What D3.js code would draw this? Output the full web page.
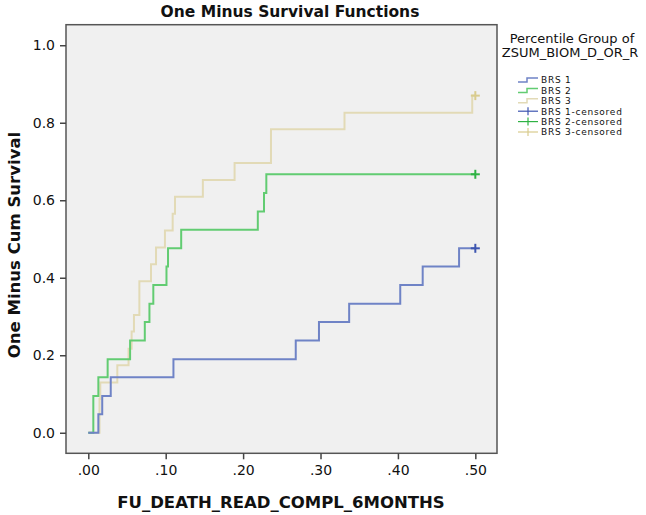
<!DOCTYPE html>
<html>
<head>
<meta charset="utf-8">
<script src="https://cdn.jsdelivr.net/npm/d3@7"></script>
<style>
  html, body { margin: 0; padding: 0; background: #ffffff; }
  svg { display: block; font-family: "DejaVu Sans", sans-serif; }
</style>
</head>
<body>
<svg id="chart" width="646" height="515"></svg>
<script>
// ---- data ----
const groups = ["BRS 1", "BRS 2", "BRS 3"];
// event times and one-minus-survival values after each event
const brs1Times  = [0.013, 0.018, 0.029, 0.110, 0.268, 0.298, 0.337, 0.403, 0.432, 0.479];
const brs1Values = [0.048, 0.095, 0.143, 0.190, 0.238, 0.286, 0.333, 0.381, 0.429, 0.476];
const brs2Times  = [0.0065, 0.013, 0.025, 0.054, 0.073, 0.079, 0.084, 0.101, 0.103, 0.120, 0.219, 0.227, 0.230];
const brs2Values = [0.095, 0.143, 0.190, 0.238, 0.286, 0.333, 0.381, 0.429, 0.476, 0.524, 0.571, 0.619, 0.667];
const brs3Times  = [0.0145, 0.0155, 0.0375, 0.052, 0.056, 0.059, 0.066, 0.081, 0.0875, 0.099, 0.109, 0.112, 0.148, 0.189, 0.236, 0.331, 0.496];
const brs3Values = [0.087, 0.130, 0.174, 0.217, 0.261, 0.304, 0.391, 0.435, 0.478, 0.522, 0.565, 0.609, 0.652, 0.696, 0.783, 0.826, 0.870];
const censorTime = [0.50, 0.50, 0.50];
const xTicks = [0, 0.1, 0.2, 0.3, 0.4, 0.5];
const yTicks = [0, 0.2, 0.4, 0.6, 0.8, 1.0];
const lineColors   = ["#6f83c6", "#62cc72", "#e2dab6"];
const censorColors = ["#3d55b0", "#2fb244", "#d9cc8e"];

const svg = d3.select("#chart");
const plot = { left: 66, right: 497, top: 24.7, bottom: 453.3 };

const x = d3.scaleLinear().domain([-0.0288, 0.528]).range([plot.left, plot.right]);
const y = d3.scaleLinear().domain([-0.053, 1.053]).range([plot.bottom, plot.top]);

// plot background
svg.append("rect")
  .attr("x", plot.left).attr("y", plot.top)
  .attr("width", plot.right - plot.left).attr("height", plot.bottom - plot.top)
  .attr("fill", "#f0f0f0");

// step curves
const series = [
  { times: brs1Times, values: brs1Values },
  { times: brs2Times, values: brs2Values },
  { times: brs3Times, values: brs3Values }
];
const lineGen = d3.line().x(d => x(d[0])).y(d => y(d[1])).curve(d3.curveStepAfter);

[2, 1, 0].forEach(i => {
  const s = series[i];
  const pts = [[0, 0]];
  s.times.forEach((t, k) => pts.push([t, s.values[k]]));
  pts.push([censorTime[i], s.values[s.values.length - 1]]);
  svg.append("path")
    .attr("d", lineGen(pts))
    .attr("fill", "none")
    .attr("stroke", lineColors[i])
    .attr("stroke-width", 2);
});

// censor marks
[2, 1, 0].forEach(i => {
  const s = series[i];
  const cx = x(censorTime[i]), cy = y(s.values[s.values.length - 1]);
  const g = svg.append("g").attr("stroke", censorColors[i]).attr("stroke-width", 2);
  g.append("line").attr("x1", cx - 4.5).attr("x2", cx + 4.5).attr("y1", cy).attr("y2", cy);
  g.append("line").attr("x1", cx).attr("x2", cx).attr("y1", cy - 4.5).attr("y2", cy + 4.5);
});

// frame
svg.append("rect")
  .attr("x", plot.left).attr("y", plot.top)
  .attr("width", plot.right - plot.left).attr("height", plot.bottom - plot.top)
  .attr("fill", "none").attr("stroke", "#555").attr("stroke-width", 1.5);

// axes
const xAxis = d3.axisBottom(x).tickValues(xTicks).tickSize(6).tickPadding(6)
  .tickFormat(d => d3.format(".2f")(d).replace(/^0/, ""));
const gx = svg.append("g").attr("transform", `translate(0,${plot.bottom})`).call(xAxis);
gx.select(".domain").remove();
gx.selectAll(".tick line").attr("stroke", "#444").attr("stroke-width", 1.5);
gx.selectAll(".tick text").attr("font-size", 14).attr("fill", "#111")
  .attr("font-family", "DejaVu Sans, sans-serif");

const yAxis = d3.axisLeft(y).tickValues(yTicks).tickSize(6).tickPadding(5)
  .tickFormat(d3.format(".1f"));
const gy = svg.append("g").attr("transform", `translate(${plot.left},0)`).call(yAxis);
gy.select(".domain").remove();
gy.selectAll(".tick line").attr("stroke", "#444").attr("stroke-width", 1.5);
gy.selectAll(".tick text").attr("font-size", 14).attr("fill", "#111")
  .attr("font-family", "DejaVu Sans, sans-serif");

// title
svg.append("text").attr("x", 290).attr("y", 17).attr("text-anchor", "middle")
  .attr("font-size", 15.5).attr("font-weight", "bold").attr("fill", "#111")
  .text("One Minus Survival Functions");

// axis titles
svg.append("text").attr("x", 281).attr("y", 508).attr("text-anchor", "middle")
  .attr("font-size", 16.5).attr("font-weight", "bold").attr("fill", "#111")
  .text("FU_DEATH_READ_COMPL_6MONTHS");
svg.append("text").attr("transform", "translate(20,245) rotate(-90)").attr("text-anchor", "middle")
  .attr("font-size", 16.5).attr("font-weight", "bold").attr("fill", "#111")
  .text("One Minus Cum Survival");

// legend
const lg = svg.append("g");
lg.append("text").attr("x", 572).attr("y", 43).attr("text-anchor", "middle")
  .attr("font-size", 13).attr("fill", "#111").text("Percentile Group of");
lg.append("text").attr("x", 570).attr("y", 57).attr("text-anchor", "middle")
  .attr("font-size", 13).attr("fill", "#111").text("ZSUM_BIOM_D_OR_R");

const legendItems = [];
groups.forEach((gname, i) => legendItems.push({ label: gname, i, censored: false }));
groups.forEach((gname, i) => legendItems.push({ label: gname + "-censored", i, censored: true }));
legendItems.forEach((it, k) => {
  const yy = 80 + k * 10.4;
  if (!it.censored) {
    lg.append("path")
      .attr("d", `M518,${yy + 2}H527V${yy - 2}H538`)
      .attr("fill", "none").attr("stroke", lineColors[it.i]).attr("stroke-width", 1.5);
  } else {
    lg.append("line").attr("x1", 518).attr("x2", 538).attr("y1", yy).attr("y2", yy)
      .attr("stroke", censorColors[it.i]).attr("stroke-width", 1.2);
    lg.append("line").attr("x1", 528).attr("x2", 528).attr("y1", yy - 4).attr("y2", yy + 4)
      .attr("stroke", censorColors[it.i]).attr("stroke-width", 1.2);
  }
  lg.append("text").attr("x", 541).attr("y", yy + 3.3)
    .attr("font-size", 9).attr("letter-spacing", 0.75).attr("fill", "#111").text(it.label);
});
</script>
</body>
</html>
